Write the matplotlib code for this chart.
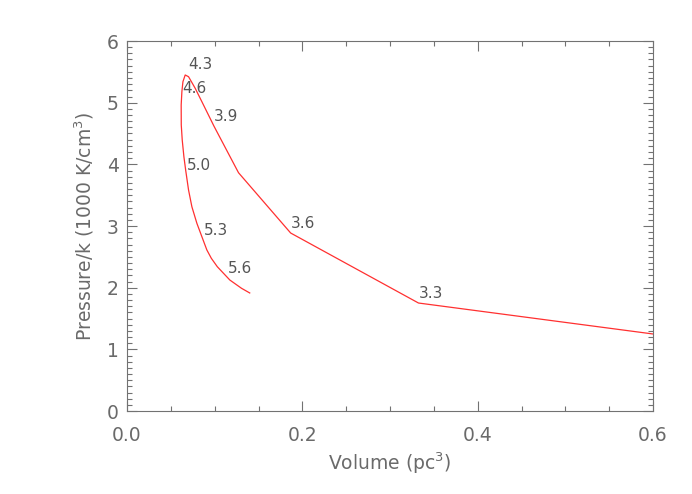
import matplotlib
matplotlib.use("Agg")
import matplotlib.pyplot as plt
from matplotlib.ticker import MultipleLocator

# Curve data (volume in pc^3, pressure/k in 1000 K/cm^3)
volume = [0.600, 0.3325, 0.1867, 0.1272, 0.0991, 0.0854, 0.0778, 0.0702, 0.0664,
          0.0638, 0.0626, 0.0618, 0.0619, 0.0630, 0.0649, 0.0669, 0.0702, 0.0740,
          0.0797, 0.0854, 0.0911, 0.0962, 0.1030, 0.1173, 0.1306, 0.1400]
pressure = [1.249, 1.751, 2.886, 3.864, 4.622, 5.016, 5.233, 5.421, 5.449,
            5.340, 5.178, 4.962, 4.638, 4.395, 4.124, 3.908, 3.584, 3.313,
            3.044, 2.827, 2.611, 2.476, 2.340, 2.124, 1.990, 1.914]

# Time labels along the curve
label_text = ["3.3", "3.6", "3.9", "4.3", "4.6", "5.0", "5.3", "5.6"]
label_x = [0.3325, 0.1867, 0.0991, 0.0694, 0.0626, 0.0683, 0.0877, 0.1150]
label_y = [1.751, 2.886, 4.622, 5.465, 5.076, 3.827, 2.773, 2.157]

xticks = [0.0, 0.2, 0.4, 0.6]
xtick_labels = ["0.0", "0.2", "0.4", "0.6"]
yticks = [0, 1, 2, 3, 4, 5, 6]

text_color = "#6a6a6a"
axis_color = "#727272"

plt.rcParams['font.family'] = ['DejaVu Sans']
fig = plt.figure(figsize=(6.92, 4.94), dpi=100)
ax = fig.add_axes([127/692, 83/494, 526/692, 370/494])

ax.plot(volume, pressure, color="#ff3030", lw=0.9, clip_on=True)

for t, x, y in zip(label_text, label_x, label_y):
    ax.annotate(t, (x, y), xytext=(0, 5), textcoords="offset pixels",
                ha="left", va="baseline", fontsize=11, color="#555555")

ax.set_xlim(0, 0.6)
ax.set_ylim(0, 6)
ax.set_xticks(xticks)
ax.set_xticklabels(xtick_labels)
ax.set_yticks(yticks)
ax.xaxis.set_minor_locator(MultipleLocator(0.05))
ax.yaxis.set_minor_locator(MultipleLocator(0.1))

ax.tick_params(which="both", direction="in", top=True, right=True,
               colors=axis_color, labelcolor=text_color, labelsize=13.5, width=0.8)
ax.tick_params(which="major", length=7)
ax.tick_params(which="minor", length=3.5)
ax.tick_params(axis="x", which="major", pad=11)
ax.tick_params(axis="y", which="major", pad=6)

for s in ax.spines.values():
    s.set_color(axis_color)
    s.set_linewidth(0.8)

ax.set_xlabel("Volume (pc$^3$)", fontsize=13.5, color=text_color, labelpad=4)
ax.set_ylabel("Pressure/k (1000 K/cm$^3$)", fontsize=13.5, color=text_color, labelpad=8)

fig.savefig("out.png", dpi=100)
